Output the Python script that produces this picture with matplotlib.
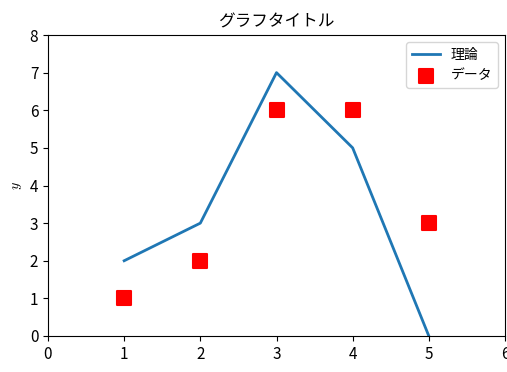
import matplotlib
matplotlib.use("Agg")
import matplotlib.pyplot as plt

plt.rcParams['font.family'] = ['Noto Sans CJK JP', 'DejaVu Sans']
plt.rcParams['mathtext.fontset'] = 'cm'

theory_x = [1, 2, 3, 4, 5]
theory_y = [2, 3, 7, 5, 0]
data_x = [1, 2, 3, 4, 5]
data_y = [1, 2, 6, 6, 3]

fig = plt.figure(figsize=(5.07, 3.72), dpi=100)
ax = fig.add_axes([48/507, (372-336)/372, (505-48)/507, (336-35)/372])
ax.plot(theory_x, theory_y, color='#1f77b4', linewidth=2, label='理論')
ax.scatter(data_x, data_y, color='red', marker='s', s=90, linewidths=1.5,
           edgecolors='red', label='データ', zorder=3)
ax.set_xlim(0, 6)
ax.set_ylim(0, 8)
ax.set_title('グラフタイトル', fontsize=12)
ax.set_xlabel('$x$', fontsize=10)
ax.set_ylabel('$y$', fontsize=10)
ax.tick_params(labelsize=11)
ax.legend(loc='upper right')
fig.savefig('out.png', dpi=100)
